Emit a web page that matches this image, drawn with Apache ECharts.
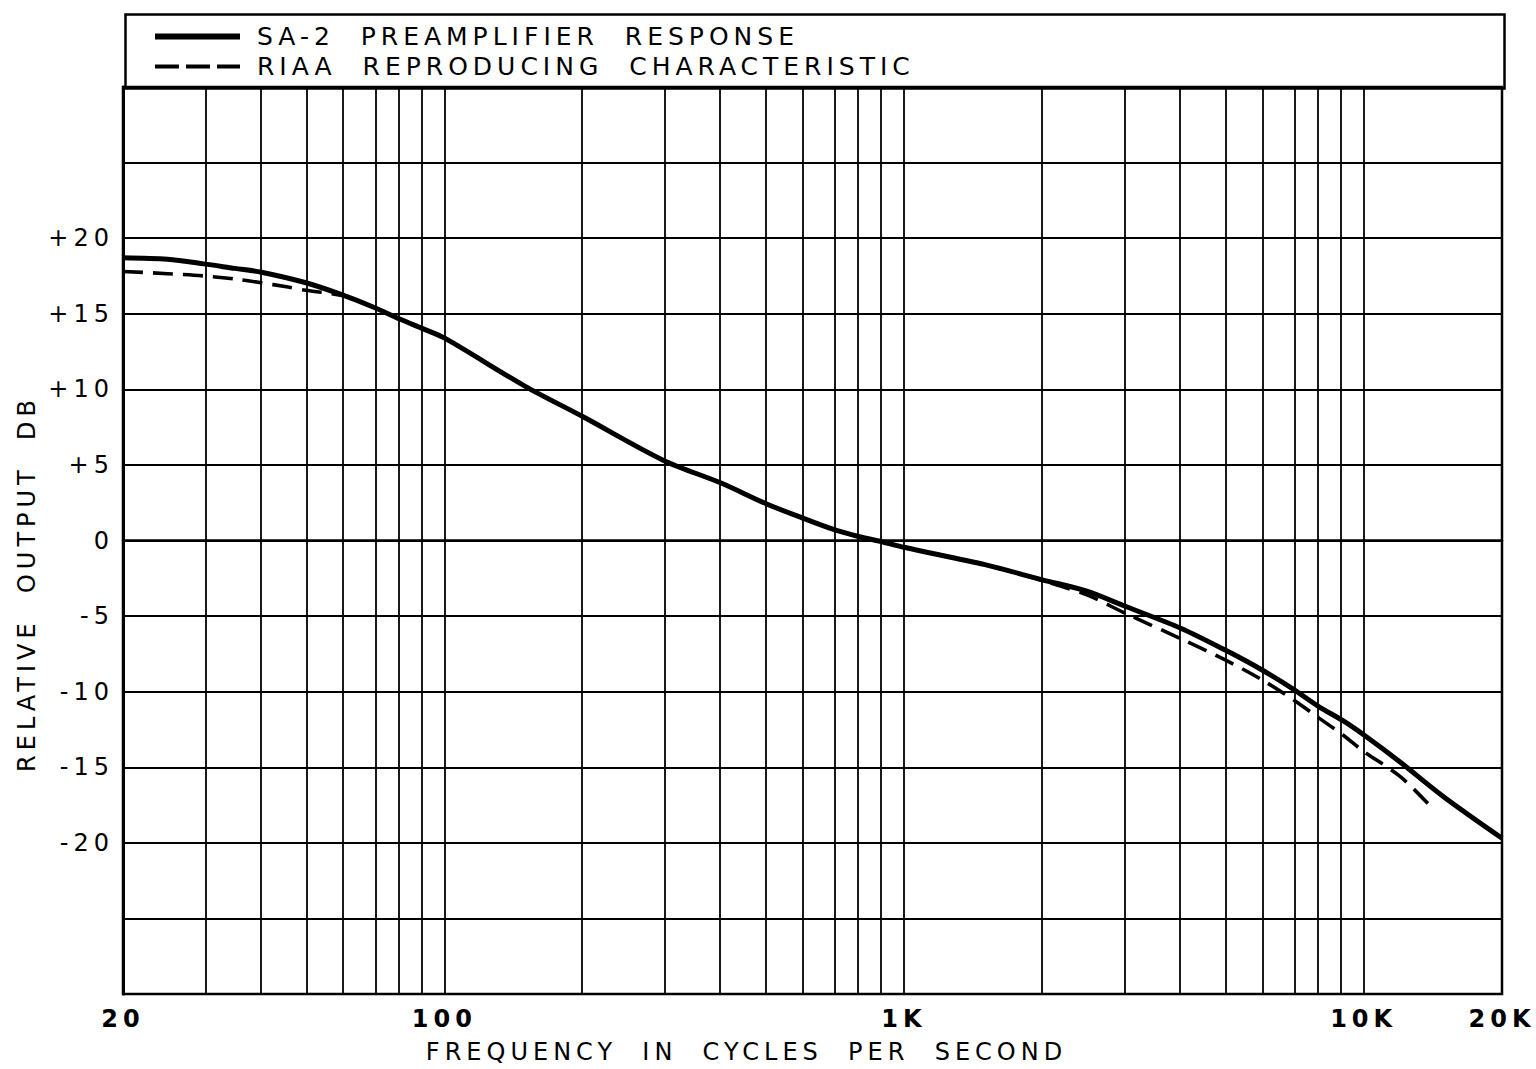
<!DOCTYPE html>
<html>
<head>
<meta charset="utf-8">
<script src="https://cdn.jsdelivr.net/npm/echarts@6/dist/echarts.min.js"></script>
<style>
html,body{margin:0;padding:0;background:#fff;}
#chart{width:1536px;height:1069px;}
#chart text{letter-spacing:5px;}
</style>
</head>
<body>
<div id="chart"></div>
<script>
// ---- data ----
var seriesNames = ['SA-2  PREAMPLIFIER  RESPONSE', 'RIAA  REPRODUCING  CHARACTERISTIC'];
var sa2Freq = [20,25,30,35,40,50,60,70,80,90,100,150,200,300,400,500,600,700,800,900,1000,1500,2000,2500,3000,4000,5000,6000,7000,8000,9000,10000,12000,15000,20000];
var sa2Db   = [18.7,18.6,18.3,18.0,17.75,17.05,16.25,15.45,14.65,14.0,13.4,10.2,8.2,5.3,3.8,2.45,1.5,0.75,0.25,-0.1,-0.45,-1.6,-2.6,-3.35,-4.3,-5.8,-7.25,-8.55,-9.8,-11.0,-11.9,-12.85,-14.65,-17.0,-19.7];
var riaaFreq = [20,25,30,35,40,45,50,60,70,80,90,100,150,200,300,400,500,600,700,800,900,1000,1500,2000,2500,3000,4000,5000,6000,7000,8000,9000,10000,12000,13800];
var riaaDb   = [17.8,17.65,17.5,17.3,17.05,16.8,16.55,16.2,15.45,14.65,14.0,13.4,10.2,8.2,5.3,3.8,2.45,1.5,0.75,0.25,-0.1,-0.45,-1.6,-2.65,-3.6,-4.75,-6.5,-7.9,-9.2,-10.5,-11.75,-12.85,-13.95,-15.6,-17.4];
var freqGrid = [30,40,50,60,70,80,90,100,200,300,400,500,600,700,800,900,1000,2000,3000,4000,5000,6000,7000,8000,9000,10000];
var xTickFreq = [20,100,1000,10000,20000];
var xTickLabels = ['20','100','1K','10K','20K'];
var yLabelMin = -20, yLabelMax = 20;

var FONT = 'DejaVu Sans';
function lg(f){ return Math.log10(f); }
function pairs(fs, ds){ return fs.map(function(f,i){ return [lg(f), ds[i]]; }); }

var chart = echarts.init(document.getElementById('chart'), null, { renderer: 'svg' });
var option = {
  animation: false,
  backgroundColor: '#fff',
  grid: { left: 123, right: 34, top: 87, bottom: 72, show: true, borderColor: '#000', borderWidth: 2.5, backgroundColor: 'transparent' },
  graphic: [{
    type: 'rect', left: 123, top: 12,
    shape: { width: 1379, height: 74 },
    style: { fill: 'none', stroke: '#000', lineWidth: 2.5 }, z: 0
  }],
  legend: {
    orient: 'vertical', left: 150, top: 19,
    itemWidth: 85, itemHeight: 6, itemGap: 5,
    symbolKeepAspect: true,
    textStyle: { fontFamily: FONT, fontSize: 25, color: '#000', padding: [0,0,0,12] },
    data: [
      { name: seriesNames[0], icon: 'path://M0,0H85V6H0Z' },
      { name: seriesNames[1], icon: 'path://M0,1H24V5H0Z M31,1H55V5H31Z M62,1H85V5H62Z' }
    ]
  },
  xAxis: {
    type: 'value', min: lg(20), max: lg(20000),
    name: 'FREQUENCY  IN  CYCLES  PER  SECOND', nameLocation: 'middle', nameGap: 46,
    nameTextStyle: { fontFamily: FONT, fontSize: 24, color: '#000', padding: [0, 132, 0, 0] },
    axisLine: { show: true, lineStyle: { color: '#000', width: 2.5 } },
    axisTick: { show: false },
    splitLine: { show: false },
    axisLabel: {
      customValues: xTickFreq.map(lg),
      fontFamily: FONT, fontSize: 24, fontWeight: 'bold', color: '#000', margin: 13,
      formatter: function(v){
        for (var i=0;i<xTickFreq.length;i++){ if (Math.abs(lg(xTickFreq[i])-v) < 1e-6) return xTickLabels[i]; }
        return '';
      }
    }
  },
  yAxis: {
    type: 'value', min: -30, max: 30, interval: 5,
    name: 'RELATIVE  OUTPUT  DB', nameLocation: 'middle', nameGap: 84, nameRotate: 90,
    nameTextStyle: { fontFamily: FONT, fontSize: 24, color: '#000', padding: [0, 86, 0, 0] },
    axisLine: { show: true, lineStyle: { color: '#000', width: 3 } },
    axisTick: { show: false },
    splitLine: { show: true, lineStyle: { color: '#000', width: 1.8 } },
    axisLabel: {
      fontFamily: FONT, fontSize: 24, color: '#000', margin: 9,
      formatter: function(v){
        if (v < yLabelMin || v > yLabelMax) return '';
        return v > 0 ? '+' + v : String(v);
      }
    }
  },
  series: [
    {
      name: 'grid', type: 'line', data: [], silent: true, z: 1,
      markLine: {
        silent: true, symbol: ['none','none'], label: { show: false },
        lineStyle: { type: 'solid', color: '#000', width: 1.8 },
        data: freqGrid.map(function(f){ return { xAxis: lg(f) }; })
      }
    },
    {
      name: seriesNames[0], type: 'line', data: pairs(sa2Freq, sa2Db),
      smooth: 0.3, showSymbol: false, symbol: 'none', z: 5,
      lineStyle: { color: '#000', width: 5, type: 'solid' },
      itemStyle: { color: '#000' }
    },
    {
      name: seriesNames[1], type: 'line', data: pairs(riaaFreq, riaaDb),
      smooth: 0.3, showSymbol: false, symbol: 'none', z: 4,
      lineStyle: { color: '#000', width: 3.6, type: [20, 10] },
      itemStyle: { color: '#000' }
    }
  ]
};
chart.setOption(option);
</script>
</body>
</html>
